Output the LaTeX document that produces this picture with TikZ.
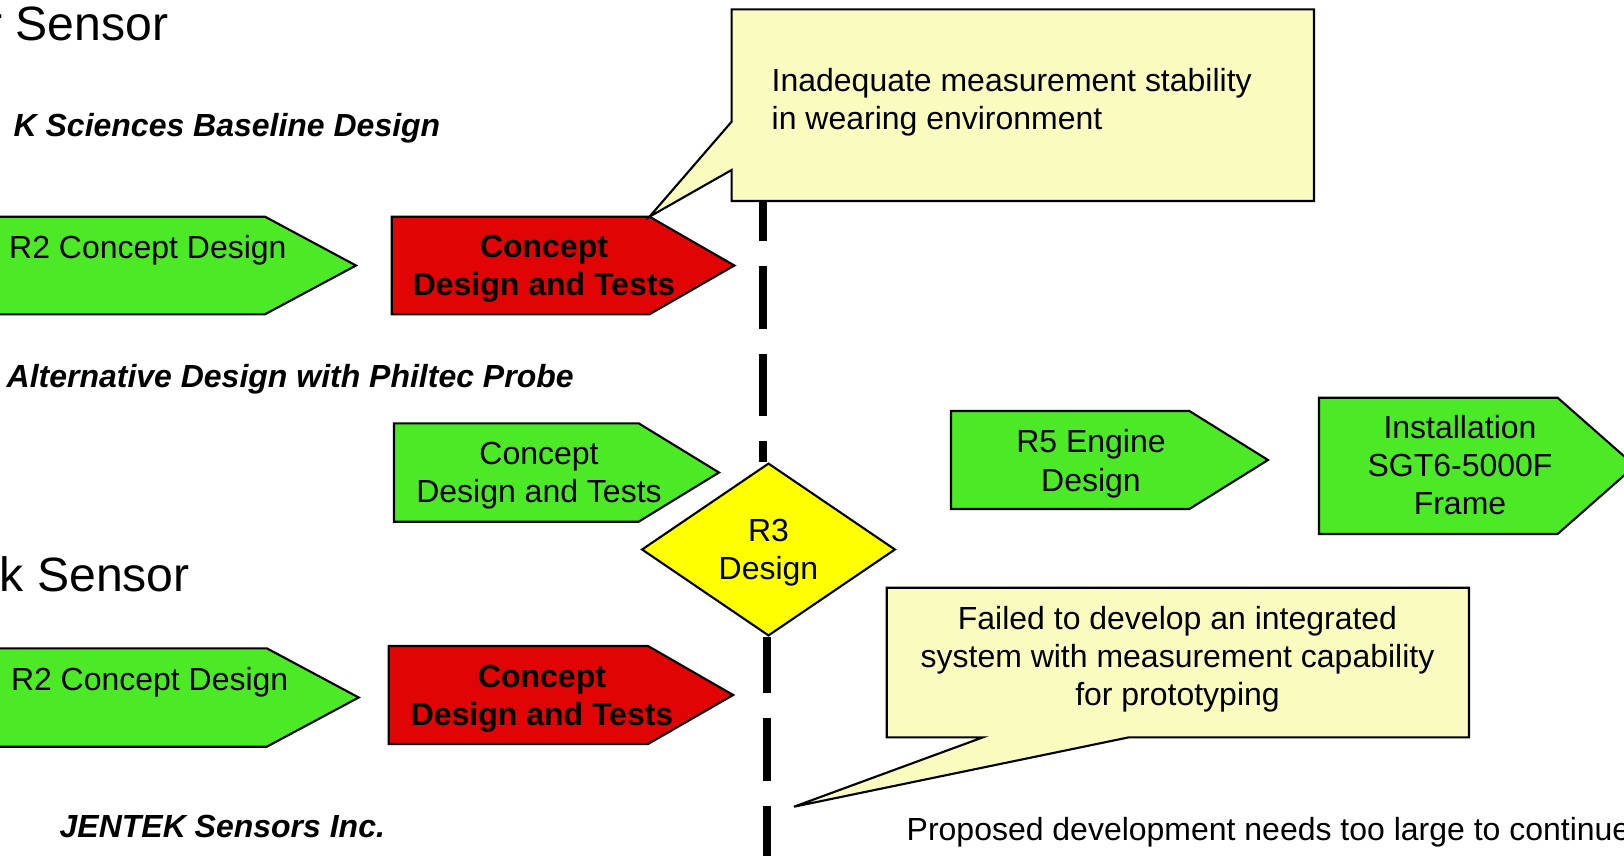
\documentclass[tikz,border=0pt]{standalone}
\usepackage{fontspec}
\setmainfont{Liberation Sans}
\usetikzlibrary{shapes.geometric}
\usetikzlibrary{backgrounds}
\definecolor{stepgreen}{RGB}{76,234,38}
\definecolor{stepred}{RGB}{224,4,4}
\definecolor{noteyellow}{RGB}{249,251,191}
\definecolor{gateyellow}{RGB}{255,255,0}

\begin{document}
\begin{tikzpicture}[
    steparrow/.style={draw=black, line width=0.6pt},
    notebox/.style={draw=black, line width=0.6pt, fill=noteyellow},
    boxtext/.style={font=\fontsize{9.1}{10.9}\selectfont, align=center, inner sep=0pt, text depth=0pt},
    failtext/.style={boxtext, font=\fontsize{9.1}{10.9}\selectfont\bfseries},
    tracktext/.style={font=\fontsize{9.1}{10.9}\selectfont\bfseries\itshape, inner sep=0pt, anchor=base west},
    sensortext/.style={font=\fontsize{13.7}{16}\selectfont, inner sep=0pt, anchor=base east},
    timeline/.style={line width=2pt, dash pattern=on 17.9pt off 7.1pt}
]

\useasboundingbox (0,0) rectangle (16.24,8.56);
\clip (0,0) rectangle (16.24,8.56);

%---------------------------------------
% First sensor
%---------------------------------------
\node[sensortext] (senA) at (1.69,8.16) {r Sensor};
\node[tracktext] (trkKS) at (0.13,7.193) {K Sciences Baseline Design};

% R2 concept design
\filldraw[steparrow, fill=stepgreen]
  (-0.2,6.393) -- (2.65,6.393) -- (3.56,5.905) -- (2.65,5.417) -- (-0.2,5.417) -- cycle;
\node[boxtext, anchor=base west] (ksR2) at (0.085,5.975) {R2 Concept Design};

% failed step
\filldraw[steparrow, fill=stepred]
  (3.917,6.393) -- (6.495,6.393) -- (7.344,5.905) -- (6.495,5.417) -- (3.917,5.417) -- cycle;
\node[failtext] (ksTests) at (5.44,5.91) {Concept\\Design and Tests};

% callout
\filldraw[notebox]
  (7.316,8.467) -- (13.14,8.467) -- (13.14,6.55) -- (7.316,6.55)
  -- (7.316,6.86) -- (6.495,6.393) -- (7.316,7.343) -- cycle;
\node[boxtext, align=left, anchor=west] (noteA) at (7.71,7.5735)
  {Inadequate measurement stability\\in wearing environment};

%---------------------------------------
% Philtec track
%---------------------------------------
\node[tracktext] (trkPh) at (0.06,4.69) {Alternative Design with Philtec Probe};

\filldraw[steparrow, fill=stepgreen]
  (3.94,4.327) -- (6.386,4.327) -- (7.19,3.835) -- (6.386,3.343) -- (3.94,3.343) -- cycle;
\node[boxtext] (phTests) at (5.39,3.835) {Concept\\Design and Tests};

\filldraw[steparrow, fill=stepgreen]
  (9.51,4.45) -- (11.894,4.45) -- (12.68,3.96) -- (11.894,3.47) -- (9.51,3.47) -- cycle;
\node[boxtext] (phR5) at (10.91,3.956) {R5 Engine\\Design};

\filldraw[steparrow, fill=stepgreen]
  (13.19,4.583) -- (15.576,4.583) -- (16.35,3.9015) -- (15.576,3.22) -- (13.19,3.22) -- cycle;
\node[boxtext] (phInst) at (14.60,3.91) {Installation\\SGT6-5000F\\Frame};

% R3 gate
\node[diamond, draw=black, line width=0.6pt, fill=gateyellow, boxtext,
      minimum width=2.537cm, minimum height=1.727cm] (r3) at (7.685,3.065) {R3\\Design};

%---------------------------------------
% Second sensor
%---------------------------------------
\node[sensortext] (senB) at (1.905,2.643) {k Sensor};

\filldraw[steparrow, fill=stepgreen]
  (-0.2,2.077) -- (2.668,2.077) -- (3.587,1.585) -- (2.668,1.093) -- (-0.2,1.093) -- cycle;
\node[boxtext, anchor=base west] (jtR2) at (0.103,1.653) {R2 Concept Design};

\filldraw[steparrow, fill=stepred]
  (3.888,2.10) -- (6.48,2.10) -- (7.332,1.61) -- (6.48,1.12) -- (3.888,1.12) -- cycle;
\node[failtext] (jtTests) at (5.42,1.61) {Concept\\Design and Tests};

\filldraw[notebox]
  (8.867,2.683) -- (14.69,2.683) -- (14.69,1.187) -- (11.29,1.187)
  -- (7.94,0.493) -- (9.83,1.187) -- (8.867,1.187) -- cycle;
\node[boxtext] (noteB) at (11.775,2.00)
  {Failed to develop an integrated\\system with measurement capability\\for prototyping};

\node[tracktext] (trkJT) at (0.59,0.183) {JENTEK Sensors Inc.};
\node[boxtext, anchor=base west] (jtNote) at (9.06,0.16)
  {Proposed development needs too large to continue};

% decision line
\coordinate (lineTop) at (7.63,6.55);
\coordinate (lineBot) at (7.67,0);
\begin{scope}[on background layer]
  \draw[timeline, dash phase=6.6pt] (lineTop) -- (lineTop |- r3.north);
  \draw[timeline, dash phase=1.8pt] (lineBot |- r3.south) -- (lineBot);
\end{scope}

\end{tikzpicture}
\end{document}
